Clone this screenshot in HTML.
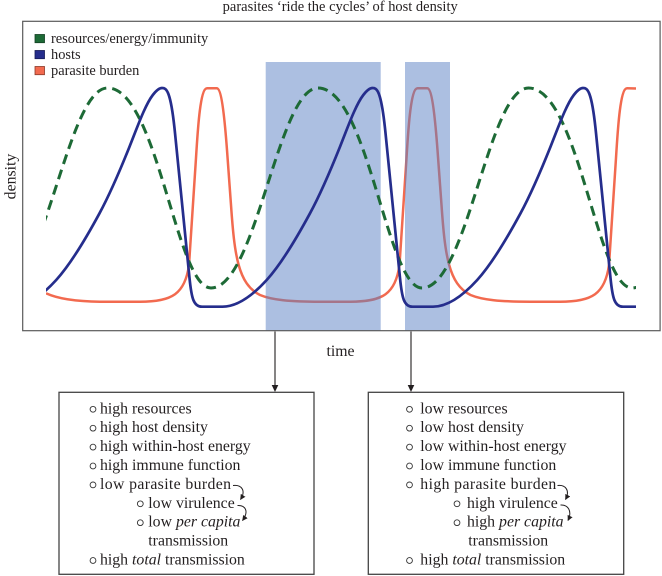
<!DOCTYPE html>
<html>
<head>
<meta charset="utf-8">
<style>
  html, body { margin: 0; padding: 0; background: #fff; }
  svg { display: block; }
  text { font-family: "Liberation Serif", "DejaVu Serif", serif; fill: #231f20; }
</style>
</head>
<body>
<svg width="662" height="576" viewBox="0 0 662 576" xmlns="http://www.w3.org/2000/svg">
  <defs>
    <clipPath id="pc"><rect x="46" y="60" width="590" height="270"/></clipPath>
    <marker id="ah" viewBox="0 0 10 10" refX="9" refY="5" markerWidth="5.5" markerHeight="5.5" markerUnits="userSpaceOnUse" orient="auto">
      <path d="M0,0 L10,5 L0,10 z" fill="#231f20"/>
    </marker>
  </defs>
  <rect x="0" y="0" width="662" height="576" fill="#fff"/>

  <!-- title -->
  <text x="222.7" y="10.8" font-size="14.4" textLength="235" lengthAdjust="spacingAndGlyphs">parasites ‘ride the cycles’ of host density</text>

  <!-- red (under the translucent rects) -->
  <g clip-path="url(#pc)">
    <path fill="none" stroke="#f26a4f" stroke-width="2.5" stroke-linejoin="round"
      d="M 46 293.3 C 55 297.5 70 301.5 100 301.7 L 140 301.7
         C 172 301.7 185 294 189 265 L 196 158 C 198 125 200.5 88.3 207 88.3 L 216.7 88.3
         C 221 88.3 224 110 227 150 L 231 205 C 234.5 255 238 284 260 295 C 272 300 290 301.7 320 301.7
         L 350.5 301.7
         C 382.5 301.7 395.5 294 399.5 265 L 406.5 158 C 408.5 125 411 88.3 417.5 88.3 L 427.2 88.3
         C 431.5 88.3 434.5 110 437.5 150 L 441.5 205 C 445 255 448.5 284 470.5 295 C 482.5 300 500.5 301.7 530.5 301.7
         L 560 301.7
         C 592 301.7 605 294 609 265 L 616 158 C 618 125 620.5 88.3 627 88.3 L 640 88.5"/>
  </g>

  <!-- highlighted regions -->
  <rect x="265.7" y="62" width="115" height="268.5" fill="#5a7fc4" fill-opacity="0.5"/>
  <rect x="405" y="62" width="45" height="268.5" fill="#5a7fc4" fill-opacity="0.5"/>

  <g clip-path="url(#pc)">
    <!-- green dashed -->
    <path fill="none" stroke="#1d6a36" stroke-width="3" stroke-dasharray="10 6"
      d="M 0 288 C 45 288 67.5 88 107.5 88
         C 157.5 88 176 288 211 288
         C 256 288 278 88 318 88
         C 368 88 387 288 422 288
         C 467 288 488.5 88 528.5 88
         C 578.5 88 597 288 632 288
         C 677 288 700 88 740 88"/>
    <!-- blue hosts -->
    <path fill="none" stroke="#252d8c" stroke-width="2.7" stroke-linejoin="round"
      d="M 12 306.7
         C 26.73 306.7 41.47 296.2 56.2 280
         C 70.63 264.1 85.07 240 99.5 213.3
         C 109.5 194.8 119.5 171.7 129.5 146.7
         C 137.27 127.3 145.03 105.1 152.8 95
         C 155.87 91 158.93 88 162 88
         C 166.33 88 170.67 89.7 175 133
         L 189.5 278
         C 191.5 298 193.5 306.7 202 306.7
         L 222.5 306.7
         C 237.23 306.7 251.97 296.2 266.7 280
         C 281.13 264.1 295.57 240 310 213.3
         C 320 194.8 330 171.7 340 146.7
         C 347.77 127.3 355.53 105.1 363.3 95
         C 366.37 91 369.43 88 372.5 88
         C 376.83 88 381.17 89.7 385.5 133
         L 400 278
         C 402 298 404 306.7 412.5 306.7
         L 433 306.7
         C 447.73 306.7 462.47 296.2 477.2 280
         C 491.63 264.1 506.07 240 520.5 213.3
         C 530.5 194.8 540.5 171.7 550.5 146.7
         C 558.27 127.3 566.03 105.1 573.8 95
         C 576.87 91 579.93 88 583 88
         C 587.33 88 591.67 89.7 596 133
         L 610.5 278
         C 612.5 298 614.5 306.7 623 306.7
         L 640 306.7"/>
  </g>

  <!-- plot frame -->
  <rect x="22.7" y="21.3" width="637.4" height="309.4" fill="none" stroke="#5a5a5a" stroke-width="1.2"/>

  <!-- legend -->
  <rect x="35" y="34.5" width="9.5" height="8.2" fill="#1d6a36" stroke="#123f22" stroke-width="0.8"/>
  <rect x="35" y="50.5" width="9.5" height="8.2" fill="#252d8c" stroke="#161b55" stroke-width="0.8"/>
  <rect x="35" y="66.5" width="9.5" height="8.2" fill="#f26a4f" stroke="#8a3a2a" stroke-width="0.8"/>
  <text x="51" y="42.8" font-size="14.4">resources/energy/immunity</text>
  <text x="51" y="58.8" font-size="14.4">hosts</text>
  <text x="51" y="74.8" font-size="14.4">parasite burden</text>

  <!-- axis labels -->
  <text x="15.3" y="176.5" font-size="15.8" text-anchor="middle" transform="rotate(-90 15.3 176.5)">density</text>
  <text x="340.5" y="356" font-size="15.8" text-anchor="middle">time</text>

  <!-- down arrows -->
  <line x1="275" y1="331.5" x2="275" y2="386" stroke="#231f20" stroke-width="1.1"/>
  <polygon points="271.7,385 278.3,385 275,392" fill="#231f20"/>
  <line x1="411" y1="331.5" x2="411" y2="386" stroke="#231f20" stroke-width="1.1"/>
  <polygon points="407.7,385 414.3,385 411,392" fill="#231f20"/>

  <!-- box 1 -->
  <rect x="59" y="392.3" width="255" height="182" fill="none" stroke="#444" stroke-width="1.3"/>
  <g fill="none" stroke="#333" stroke-width="0.9">
    <circle cx="93" cy="409.3" r="2.9"/>
    <circle cx="93" cy="428.2" r="2.9"/>
    <circle cx="93" cy="447.1" r="2.9"/>
    <circle cx="93" cy="466" r="2.9"/>
    <circle cx="93" cy="484.9" r="2.9"/>
    <circle cx="140.3" cy="503.8" r="2.9"/>
    <circle cx="140.3" cy="522.7" r="2.9"/>
    <circle cx="93" cy="560.5" r="2.9"/>
  </g>
  <g font-size="15.8">
    <text x="100" y="413.3">high resources</text>
    <text x="100" y="432.2">high host density</text>
    <text x="100" y="451.1">high within-host energy</text>
    <text x="100" y="470">high immune function</text>
    <text x="100" y="488.9" textLength="131" lengthAdjust="spacing">low parasite burden</text>
    <text x="148.3" y="507.8">low virulence</text>
    <text x="148.3" y="526.7">low <tspan font-style="italic">per capita</tspan></text>
    <text x="148.3" y="545.6">transmission</text>
    <text x="100" y="564.5">high <tspan font-style="italic">total</tspan> transmission</text>
  </g>
  <g fill="none" stroke="#231f20" stroke-width="1">
    <path d="M 233 485.5 C 241 484.5 246.5 490 240.5 499.5" marker-end="url(#ah)"/>
    <path d="M 237.5 505.5 C 245 505 249.5 511 242.5 520.5" marker-end="url(#ah)"/>
  </g>

  <!-- box 2 -->
  <rect x="368.3" y="392.3" width="255.4" height="182" fill="none" stroke="#444" stroke-width="1.3"/>
  <g fill="none" stroke="#333" stroke-width="0.9">
    <circle cx="409.5" cy="409.3" r="2.9"/>
    <circle cx="409.5" cy="428.2" r="2.9"/>
    <circle cx="409.5" cy="447.1" r="2.9"/>
    <circle cx="409.5" cy="466" r="2.9"/>
    <circle cx="409.5" cy="484.9" r="2.9"/>
    <circle cx="457" cy="503.8" r="2.9"/>
    <circle cx="457" cy="522.7" r="2.9"/>
    <circle cx="409.5" cy="560.5" r="2.9"/>
  </g>
  <g font-size="15.8">
    <text x="420.3" y="413.3">low resources</text>
    <text x="420.3" y="432.2">low host density</text>
    <text x="420.3" y="451.1">low within-host energy</text>
    <text x="420.3" y="470">low immune function</text>
    <text x="420.3" y="488.9" textLength="136" lengthAdjust="spacing">high parasite burden</text>
    <text x="467" y="507.8">high virulence</text>
    <text x="467" y="526.7">high <tspan font-style="italic">per capita</tspan></text>
    <text x="468.3" y="545.6">transmission</text>
    <text x="420.3" y="564.5">high <tspan font-style="italic">total</tspan> transmission</text>
  </g>
  <g fill="none" stroke="#231f20" stroke-width="1">
    <path d="M 557.5 485.5 C 565 484.5 570.5 490 565.5 499.5" marker-end="url(#ah)"/>
    <path d="M 560.5 505 C 568 504.5 572.5 511 568 520.5" marker-end="url(#ah)"/>
  </g>
</svg>
</body>
</html>
